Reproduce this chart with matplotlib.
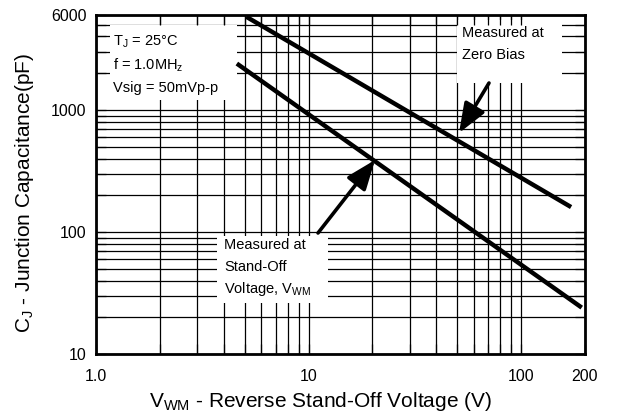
import matplotlib
matplotlib.use('Agg')
import matplotlib.pyplot as plt
from matplotlib.ticker import LogLocator, NullFormatter, FixedLocator, FixedFormatter
from matplotlib.patches import Rectangle

plt.rcParams['font.family'] = ['Liberation Sans', 'DejaVu Sans']
plt.rcParams['mathtext.default'] = 'regular'

# Data
zero_bias_v = [5.1, 172]
zero_bias_c = [5800, 160]
standoff_v = [4.6, 193]
standoff_c = [2400, 24]

x_ticks = [1, 10, 100, 200]
x_labels = ['1.0', '10', '100', '200']
y_ticks = [10, 100, 1000, 6000]
y_labels = ['10', '100', '1000', '6000']

W, H = 617, 419
fig = plt.figure(figsize=(W / 100, H / 100), dpi=100, facecolor='white')
rect = [96 / W, 1 - 354 / H, (585 - 96) / W, (354 - 15) / H]
ax = fig.add_axes(rect)
ax.set_xscale('log')
ax.set_yscale('log')
ax.set_xlim(1, 200)
ax.set_ylim(10, 6000)

for a in (ax.xaxis, ax.yaxis):
    a.set_minor_locator(LogLocator(base=10, subs=range(2, 10)))
    a.set_minor_formatter(NullFormatter())
ax.xaxis.set_major_locator(FixedLocator(x_ticks))
ax.xaxis.set_major_formatter(FixedFormatter(x_labels))
ax.yaxis.set_major_locator(FixedLocator(y_ticks))
ax.yaxis.set_major_formatter(FixedFormatter(y_labels))
ax.grid(which='both', color='black', lw=0.9)
ax.tick_params(which='both', length=0, labelsize=11.5, pad=11)
ax.tick_params(axis='y', pad=7)
for s in ax.spines.values():
    s.set_visible(False)

ax.plot(zero_bias_v, zero_bias_c, color='black', lw=3.2, solid_capstyle='butt', zorder=3)
ax.plot(standoff_v, standoff_c, color='black', lw=3.2, solid_capstyle='butt', zorder=3)

def px_box(x0, y0, x1, y1):
    return ((x0 - 96) / 489, (354 - y1) / 339, (x1 - x0) / 489, (y1 - y0) / 339)

for (bx, by, bw, bh) in [px_box(110, 25, 237, 100), px_box(457, 20, 562, 83), px_box(217, 236, 328, 303)]:
    ax.add_patch(Rectangle((bx, by), bw, bh, transform=ax.transAxes,
                           facecolor='white', edgecolor='none', zorder=2.5))

def ax_pt(px, py):
    return ((px - 96) / 489, (354 - py) / 339)

fs = 10.5
for txt, py in [(r'T$_J$ = 25°C', 42), (r'f = 1.0MH$_z$', 65), ('Vsig = 50mVp-p', 88)]:
    ax.text(*ax_pt(113, py), txt, transform=ax.transAxes, fontsize=fs, va='center', ha='left', zorder=4)
for txt, py in [('Measured at', 33), ('Zero Bias', 55)]:
    ax.text(*ax_pt(462, py), txt, transform=ax.transAxes, fontsize=fs, va='center', ha='left', zorder=4)
for txt, py in [('Measured at', 245), ('Stand-Off', 267), (r'Voltage, V$_{WM}$', 289)]:
    ax.text(*ax_pt(224, py), txt, transform=ax.transAxes, fontsize=fs, va='center', ha='left', zorder=4)

arrow_kw = dict(arrowstyle='-|>,head_length=0.9,head_width=0.35', lw=2.6, color='black',
                mutation_scale=20, shrinkA=0, shrinkB=0)
ax.annotate('', xy=ax_pt(459, 133), xytext=ax_pt(489, 83), xycoords='axes fraction',
            textcoords='axes fraction', arrowprops=arrow_kw, zorder=5)
ax.annotate('', xy=ax_pt(375, 160), xytext=ax_pt(318, 233), xycoords='axes fraction',
            textcoords='axes fraction', arrowprops=arrow_kw, zorder=5)

# overlay axes for spines and inward ticks
ax2 = fig.add_axes(rect, sharex=ax, sharey=ax)
ax2.patch.set_visible(False)
ax2.set_zorder(ax.get_zorder() + 1)
ax2.tick_params(which='both', direction='in', top=True, right=True, length=7, width=0.9,
                labelbottom=False, labelleft=False)
for s in ax2.spines.values():
    s.set_linewidth(2.0)

ax.set_xlabel(r'V$_{WM}$ - Reverse Stand-Off Voltage (V)', fontsize=15)
ax.xaxis.set_label_coords((320 - 96) / 489, -(401 - 354) / 339)
ax.xaxis.label.set_va('center')
ax.set_ylabel(r'C$_J$ - Junction Capacitance(pF)', fontsize=15)
ax.yaxis.set_label_coords(-(96 - 24) / 489, (354 - 193) / 339)
ax.yaxis.label.set_va('center')

fig.savefig('out.png', dpi=100, facecolor='white')
